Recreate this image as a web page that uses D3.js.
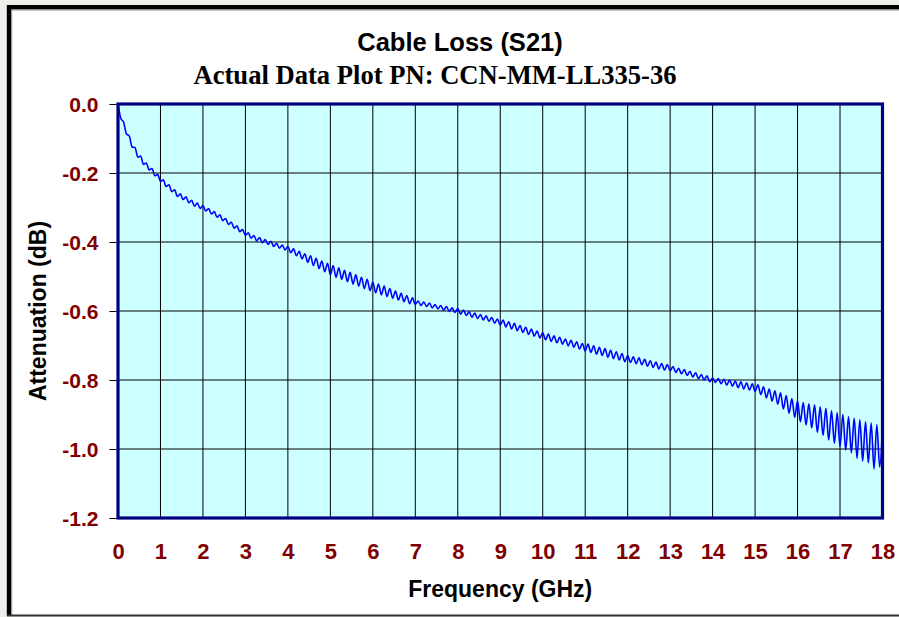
<!DOCTYPE html>
<html><head><meta charset="utf-8">
<script src="https://cdn.jsdelivr.net/npm/d3@7"></script>
<style>
html,body{margin:0;padding:0;background:#eeedea;}
svg{display:block;}
</style></head><body>
<svg id="chart" width="899" height="617"></svg>
<script>
// ---------- data ----------
const titleText = "Cable Loss (S21)";
const subtitleText = "Actual Data Plot PN: CCN-MM-LL335-36";
const xAxisTitle = "Frequency (GHz)";
const yAxisTitle = "Attenuation (dB)";
const xTicks = [0,1,2,3,4,5,6,7,8,9,10,11,12,13,14,15,16,17,18];
const yTicks = [0.0,-0.2,-0.4,-0.6,-0.8,-1.0,-1.2];
const samplesPerGHz = 15; // measurement points per GHz
// attenuation in dB, one row per GHz (15 samples each), last value at 18 GHz
const loss = [
  0.000,-0.042,-0.053,-0.087,-0.093,-0.125,-0.126,-0.154,-0.151,-0.175,-0.171,-0.191,-0.187,-0.208,-0.204,
 -0.224,-0.220,-0.239,-0.234,-0.254,-0.249,-0.268,-0.260,-0.277,-0.269,-0.286,-0.279,-0.296,-0.287,-0.303,
 -0.294,-0.310,-0.303,-0.319,-0.312,-0.328,-0.321,-0.338,-0.332,-0.349,-0.342,-0.360,-0.353,-0.370,-0.364,
 -0.381,-0.373,-0.389,-0.381,-0.397,-0.387,-0.402,-0.393,-0.407,-0.398,-0.413,-0.404,-0.418,-0.409,-0.423,
 -0.413,-0.431,-0.420,-0.440,-0.427,-0.449,-0.434,-0.459,-0.440,-0.468,-0.447,-0.477,-0.455,-0.486,-0.462,
 -0.495,-0.468,-0.502,-0.475,-0.508,-0.482,-0.515,-0.488,-0.522,-0.495,-0.528,-0.502,-0.535,-0.508,-0.541,
 -0.516,-0.547,-0.522,-0.553,-0.528,-0.558,-0.535,-0.563,-0.542,-0.568,-0.549,-0.573,-0.555,-0.579,-0.562,
 -0.581,-0.571,-0.584,-0.574,-0.587,-0.577,-0.591,-0.581,-0.594,-0.584,-0.598,-0.587,-0.601,-0.591,-0.604,
 -0.593,-0.609,-0.597,-0.613,-0.602,-0.618,-0.606,-0.622,-0.610,-0.626,-0.614,-0.630,-0.619,-0.635,-0.623,
 -0.641,-0.626,-0.646,-0.631,-0.652,-0.636,-0.657,-0.642,-0.662,-0.647,-0.668,-0.652,-0.673,-0.658,-0.678,
 -0.663,-0.683,-0.667,-0.688,-0.672,-0.692,-0.676,-0.696,-0.681,-0.701,-0.685,-0.705,-0.689,-0.710,-0.694,
 -0.716,-0.696,-0.720,-0.701,-0.725,-0.705,-0.729,-0.709,-0.734,-0.714,-0.738,-0.718,-0.742,-0.723,-0.747,
 -0.729,-0.749,-0.733,-0.753,-0.736,-0.756,-0.740,-0.760,-0.744,-0.764,-0.748,-0.768,-0.752,-0.771,-0.755,
 -0.773,-0.761,-0.778,-0.766,-0.782,-0.770,-0.787,-0.775,-0.791,-0.779,-0.796,-0.784,-0.800,-0.788,-0.805,
 -0.794,-0.807,-0.796,-0.811,-0.798,-0.815,-0.800,-0.818,-0.803,-0.822,-0.805,-0.826,-0.808,-0.829,-0.811,
 -0.833,-0.814,-0.842,-0.820,-0.852,-0.826,-0.861,-0.831,-0.870,-0.837,-0.884,-0.845,-0.896,-0.854,-0.908,
 -0.860,-0.921,-0.865,-0.930,-0.869,-0.939,-0.872,-0.952,-0.878,-0.961,-0.882,-0.974,-0.889,-0.983,-0.895,
 -0.993,-0.900,-1.003,-0.907,-1.011,-0.911,-1.027,-0.915,-1.035,-0.921,-1.040,-0.925,-1.058,-0.930,-1.052,
 -0.940
];

// ---------- layout ----------
const svg = d3.select("#chart");
const W = 899, H = 617;
const plot = {left:118, right:882.5, top:104, bottom:518};

const x = d3.scaleLinear().domain([0,18]).range([plot.left, plot.right]);
const y = d3.scaleLinear().domain([0,-1.2]).range([plot.top, plot.bottom]);

// outer frame
svg.append("rect").attr("x",9).attr("y",7).attr("width",W).attr("height",608).attr("fill","#ffffff");
svg.append("line").attr("x1",9).attr("x2",W).attr("y1",7.2).attr("y2",7.2).attr("stroke","#000").attr("stroke-width",4.4);
svg.append("line").attr("x1",9).attr("x2",9).attr("y1",5).attr("y2",616).attr("stroke","#000").attr("stroke-width",4.4);
svg.append("line").attr("x1",11.5).attr("x2",W).attr("y1",10).attr("y2",10).attr("stroke","#9a9a9a").attr("stroke-width",1.2);
svg.append("line").attr("x1",11.6).attr("x2",11.6).attr("y1",10).attr("y2",615).attr("stroke","#9a9a9a").attr("stroke-width",1.2);
svg.append("line").attr("x1",7).attr("x2",W).attr("y1",615.5).attr("y2",615.5).attr("stroke","#333").attr("stroke-width",2);

// plot background
svg.append("rect")
  .attr("x",plot.left).attr("y",plot.top)
  .attr("width",plot.right-plot.left).attr("height",plot.bottom-plot.top)
  .attr("fill","#CCFFFF");

// grid
const grid = svg.append("g").attr("stroke","#000").attr("stroke-width",1);
grid.selectAll("line.v").data(xTicks.filter(d=>d>0 && d<18)).join("line")
  .attr("x1",d=>x(d)).attr("x2",d=>x(d)).attr("y1",plot.top).attr("y2",plot.bottom);
grid.selectAll("line.h").data(yTicks.filter(d=>d<0 && d>-1.2)).join("line")
  .attr("x1",plot.left).attr("x2",plot.right).attr("y1",d=>y(d)).attr("y2",d=>y(d));

// curve
svg.append("clipPath").attr("id","clip").append("rect")
  .attr("x",plot.left).attr("y",plot.top).attr("width",plot.right-plot.left).attr("height",plot.bottom-plot.top);
const line = d3.line()
  .x((d,i)=>x(i/samplesPerGHz))
  .y(d=>y(d))
  .curve(d3.curveMonotoneX);
svg.append("path").datum(loss)
  .attr("clip-path","url(#clip)")
  .attr("d",line).attr("fill","none")
  .attr("stroke","#0000FF").attr("stroke-width",1.6);

// border
svg.append("rect")
  .attr("x",plot.left).attr("y",plot.top)
  .attr("width",plot.right-plot.left).attr("height",plot.bottom-plot.top)
  .attr("fill","none").attr("stroke","#000080").attr("stroke-width",3.2);

// axes
const labelFont = "'Liberation Sans', Arial, sans-serif";
const yAxis = d3.axisLeft(y).tickValues(yTicks).tickSize(7).tickPadding(11)
  .tickFormat(d=>d.toFixed(1));
const gy = svg.append("g").attr("transform",`translate(${plot.left-1.5},0)`).call(yAxis);
gy.select(".domain").remove();
gy.selectAll(".tick line").attr("stroke","#000");
gy.selectAll(".tick text").attr("fill","#800000").attr("font-family",labelFont)
  .attr("font-weight","bold").attr("font-size","21px").attr("dy","0.36em");

const xAxis = d3.axisBottom(x).tickValues(xTicks).tickSize(0).tickPadding(25)
  .tickFormat(d=>String(d));
const gx = svg.append("g").attr("transform",`translate(0,${plot.bottom})`).call(xAxis);
gx.select(".domain").remove();
gx.selectAll(".tick text").attr("fill","#800000").attr("font-family",labelFont)
  .attr("font-weight","bold").attr("font-size","22px").attr("dy","0.71em");

// titles
svg.append("text").attr("x",460).attr("y",51).attr("text-anchor","middle")
  .attr("font-family",labelFont).attr("font-weight","bold").attr("font-size","25.5px")
  .attr("fill","#000").text(titleText);
svg.append("text").attr("x",435).attr("y",84).attr("text-anchor","middle")
  .attr("font-family","'Liberation Serif', 'Times New Roman', serif").attr("font-weight","bold").attr("font-size","26.6px")
  .attr("fill","#000").text(subtitleText);
svg.append("text").attr("x",(plot.left+plot.right)/2).attr("y",597).attr("text-anchor","middle")
  .attr("font-family",labelFont).attr("font-weight","bold").attr("font-size","23px")
  .attr("fill","#000").text(xAxisTitle);
svg.append("text").attr("transform",`translate(46,${(plot.top+plot.bottom)/2}) rotate(-90)`)
  .attr("text-anchor","middle")
  .attr("font-family",labelFont).attr("font-weight","bold").attr("font-size","23px")
  .attr("fill","#000").text(yAxisTitle);
</script>
</body></html>
